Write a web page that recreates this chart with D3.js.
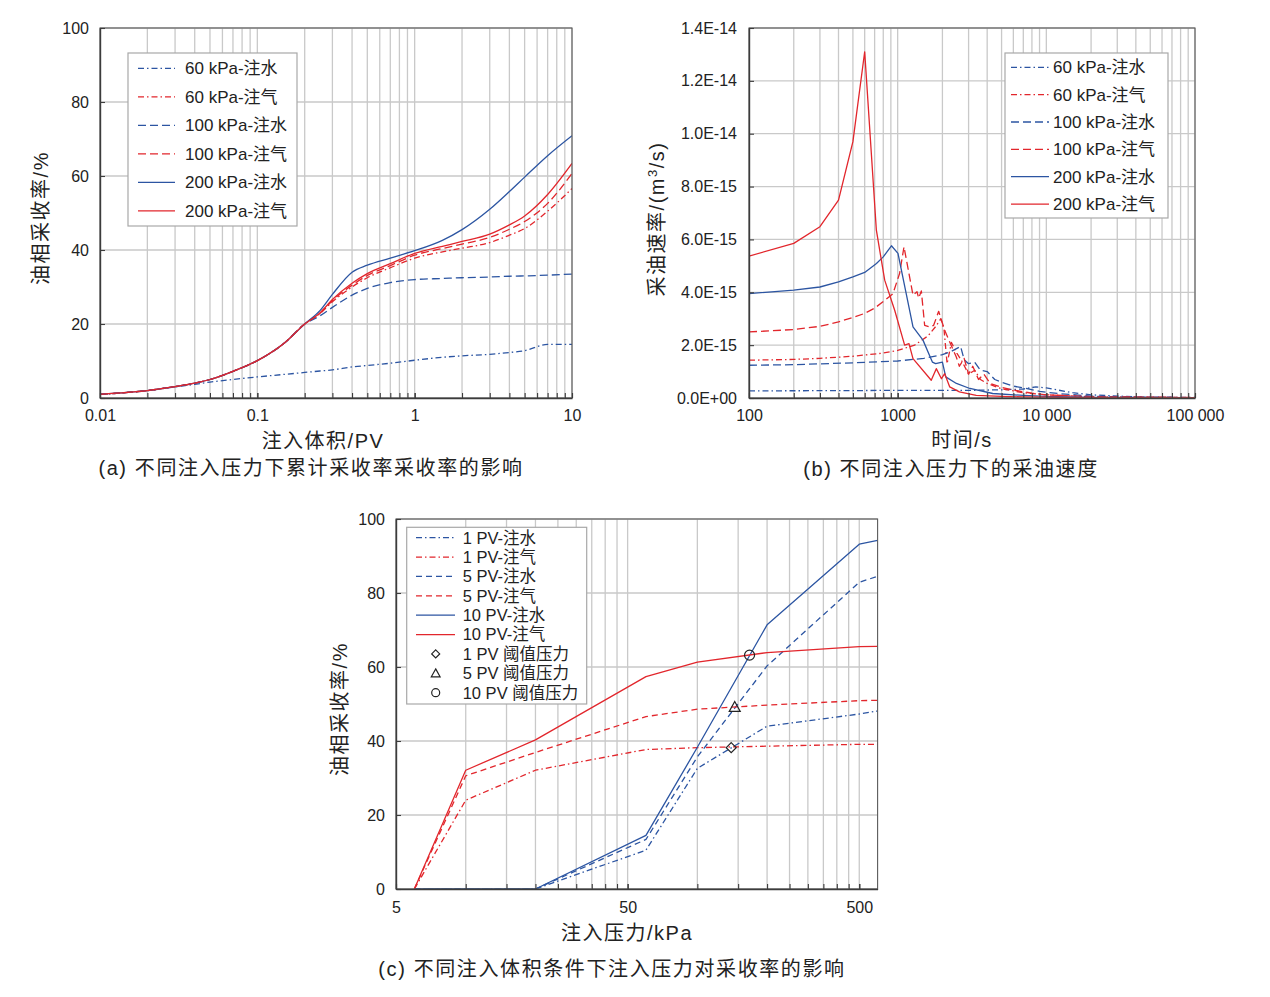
<!DOCTYPE html>
<html><head><meta charset="utf-8">
<script src="https://cdn.jsdelivr.net/npm/d3@7"></script>
<style>body{margin:0;background:#fff}</style>
</head><body><svg id="c" width="1270" height="997"></svg>
<script>
// ---------------- Panel (a): cumulative recovery vs injected PV ----------------
const pvA = [0.01,0.015,0.02,0.03,0.04,0.05,0.07,0.1,0.15,0.2,0.25,0.3,0.4,0.5,0.7,1,1.5,2,3,4,5,7,10];
const recA_60w  = [1.0,1.5,2.0,3.0,3.7,4.3,5.0,5.7,6.4,6.9,7.3,7.6,8.4,8.8,9.4,10.2,11.0,11.4,11.8,12.3,12.8,14.5,14.5];
const recA_60g  = [1.0,1.5,2.0,3.1,4.0,5.0,7.2,10.1,15.0,20.0,22.8,26.0,30.0,32.5,35.2,37.8,39.5,40.5,42.0,44.0,45.8,50.5,56.6];
const recA_100w = [1.0,1.5,2.0,3.1,4.0,5.0,7.2,10.1,15.0,20.0,22.2,24.5,27.8,29.6,31.2,32.0,32.3,32.5,32.7,32.9,33.0,33.2,33.5];
const recA_100g = [1.0,1.5,2.0,3.1,4.0,5.0,7.2,10.1,15.0,20.0,22.9,26.3,30.5,33.1,35.8,38.6,40.4,41.6,43.4,45.6,47.7,52.6,60.7];
const recA_200w = [1.0,1.5,2.0,3.1,4.0,5.0,7.2,10.1,15.0,20.0,23.6,28.0,34.0,35.9,37.8,39.8,42.6,45.5,51.0,55.8,59.7,65.5,70.9];
const recA_200g = [1.0,1.5,2.0,3.1,4.0,5.0,7.2,10.1,15.0,20.0,23.0,26.6,31.0,33.6,36.3,39.1,41.0,42.3,44.3,46.8,49.2,55.0,63.4];
const xTicksA = [0.01,0.1,1,10];
const xTickLabelsA = ["0.01","0.1","1","10"];
const yTicksA = [0,20,40,60,80,100];
const legendA = ["60 kPa-注水","60 kPa-注气","100 kPa-注水","100 kPa-注气","200 kPa-注水","200 kPa-注气"];

// ---------------- Panel (b): oil rate vs time (rate in units of 1E-15 m3/s) ----------------
const tB_60w  = [100,500,1000,2000,3000,5000,7000,8500,10000,12000,15000,20000,40000,100000];
const rB_60w  = [0.27,0.28,0.29,0.29,0.29,0.31,0.34,0.42,0.38,0.30,0.20,0.12,0.04,0.02];
const tB_60g  = [100,200,300,500,800,1000,1300,1600,1800,1950,2050,2150,2300,2500,2700,3000,3300,3600,4000,5000,7000,10000,20000,100000];
const rB_60g  = [1.43,1.46,1.50,1.58,1.70,1.80,2.00,2.35,2.70,3.00,2.60,1.30,2.10,1.70,1.40,0.90,1.05,0.70,0.55,0.35,0.20,0.12,0.05,0.01];
const tB_100w = [100,200,500,1000,1500,2000,2300,2650,2800,3000,3300,3600,4000,4500,5000,6000,7300,9000,12000,20000,40000,100000];
const rB_100w = [1.24,1.26,1.33,1.40,1.50,1.64,1.77,1.95,1.45,1.30,1.35,1.05,1.00,0.70,0.60,0.45,0.36,0.25,0.17,0.07,0.03,0.01];
const tB_100g = [100,200,300,400,500,600,700,800,930,1030,1103,1268,1349,1384,1443,1519,1641,1746,1887,2071,2480,2600,2800,3000,3200,3500,3800,4200,5000,6000,8000,10000,20000,100000];
const rB_100g = [2.50,2.59,2.71,2.88,3.05,3.20,3.40,3.65,3.95,4.71,5.72,3.89,4.02,3.78,4.05,2.75,2.69,2.75,3.28,2.56,1.55,1.20,1.50,0.90,1.20,0.70,0.90,0.55,0.40,0.30,0.18,0.12,0.05,0.02];
const tB_200w = [100,200,300,400,500,600,720,800,908,1005,1268,1480,1655,1712,1800,2000,2105,2484,3060,4360,7000,10000,20000,100000];
const rB_200w = [3.95,4.08,4.20,4.39,4.58,4.75,5.09,5.34,5.76,5.47,2.69,2.19,1.55,1.36,1.30,1.36,0.80,0.55,0.36,0.17,0.10,0.06,0.02,0.01];
const tB_200g = [100,200,300,400,500,600,719,818,955,1114,1191,1268,1682,1819,1970,2072,2240,2602,3376,5000,7000,10000,20000,100000];
const rB_200g = [5.37,5.85,6.48,7.49,9.70,13.1,6.35,4.46,3.32,2.00,2.06,1.49,0.67,1.11,0.73,0.92,0.42,0.23,0.10,0.06,0.04,0.03,0.01,0.01];
const xTicksB = [100,1000,10000,100000];
const xTickLabelsB = ["100","1000","10 000","100 000"];
const yTicksB = [0,2,4,6,8,10,12,14];
const yTickLabelsB = ["0.0E+00","2.0E-15","4.0E-15","6.0E-15","8.0E-15","1.0E-14","1.2E-14","1.4E-14"];
const legendB = ["60 kPa-注水","60 kPa-注气","100 kPa-注水","100 kPa-注气","200 kPa-注水","200 kPa-注气"];

// ---------------- Panel (c): recovery vs injection pressure ----------------
const pC = [6,10,20,60,100,200,500,600];
const recC_1w  = [0,0,0,10.5,32.6,44.0,47.3,48.1];
const recC_1g  = [0,24.0,32.1,37.7,38.2,38.6,39.1,39.1];
const recC_5w  = [0,0,0,13.4,35.7,60.3,82.9,84.5];
const recC_5g  = [0,30.6,36.9,46.6,48.6,49.7,50.9,51.0];
const recC_10w = [0,0,0,14.5,38.3,71.4,93.2,94.2];
const recC_10g = [0,32.1,40.3,57.4,61.3,63.9,65.5,65.6];
const thrP = [140,145,168];
const thrR = [38.2,49.2,63.2];
const xTicksC = [5,50,500];
const xTickLabelsC = ["5","50","500"];
const yTicksC = [0,20,40,60,80,100];
const legendC = ["1 PV-注水","1 PV-注气","5 PV-注水","5 PV-注气","10 PV-注水","10 PV-注气","1 PV 阈值压力","5 PV 阈值压力","10 PV 阈值压力"];

// ---------------- styles ----------------
const FONT = "'Liberation Sans', Arial, 'Noto Sans CJK SC', sans-serif";
const BLUE = '#2c55a2', RED = '#e2262c';
const GRID = '#c9c9c9', AXIS = '#3c3c3c', FRAME = '#5a5a5a', TXT = '#222222';
const DASHDOT = '6,3,1.5,3', DASH = '8,4', SOLID = null;

const svg = d3.select('#c').style('font-family', FONT);
svg.append('rect').attr('width',1270).attr('height',997).attr('fill','#fff');

function logGrid(lo, hi, base) {
  const out = [];
  for (let dec = base; dec <= hi * 1.0001; dec *= 10)
    for (let k = 1; k <= 9; k++) { const v = k * dec; if (v >= lo * 0.9999 && v <= hi * 1.0001) out.push(v); }
  return out;
}

function drawPanel(p) {
  const g = svg.append('g');
  const [xa, xb] = p.x.range(), [yb, ya] = p.y.range();
  g.append('g').selectAll('line').data(p.xGrid).join('line')
    .attr('x1', d => p.x(d)).attr('x2', d => p.x(d)).attr('y1', yb).attr('y2', ya)
    .attr('stroke', GRID).attr('stroke-width', 1.3);
  g.append('g').selectAll('line').data(p.yTicks).join('line')
    .attr('x1', xa).attr('x2', xb).attr('y1', d => p.y(d)).attr('y2', d => p.y(d))
    .attr('stroke', GRID).attr('stroke-width', 1.3);
  g.append('clipPath').attr('id', 'clip' + p.id).append('rect')
    .attr('x', xa).attr('y', ya - 2).attr('width', xb - xa).attr('height', yb - ya + 4);
  const sg = g.append('g').attr('clip-path', `url(#clip${p.id})`);
  p.series.forEach(s => {
    const line = d3.line().x(d => p.x(d[0])).y(d => p.y(d[1])).curve(p.curve || d3.curveLinear);
    sg.append('path').datum(d3.zip(s.x, s.y)).attr('d', line)
      .attr('fill', 'none').attr('stroke', s.color).attr('stroke-width', 1.3)
      .attr('stroke-dasharray', s.dash).attr('stroke-linejoin', 'round');
  });
  g.append('rect').attr('x', xa).attr('y', ya).attr('width', xb - xa).attr('height', yb - ya)
    .attr('fill', 'none').attr('stroke', FRAME).attr('stroke-width', 1.1);
  const minor = g.append('g').attr('transform', `translate(0,${yb})`)
    .call(d3.axisBottom(p.x).tickValues(p.xGrid).tickSize(-5).tickSizeOuter(0).tickFormat(''));
  minor.select('.domain').remove();
  minor.selectAll('line').attr('stroke', AXIS).attr('stroke-width', 1.1);
  const xg = g.append('g').attr('transform', `translate(0,${yb})`)
    .call(d3.axisBottom(p.x).tickValues(p.xTicks).tickSize(-5).tickSizeOuter(0).tickPadding(p.xPad)
      .tickFormat((d, i) => p.xLabels[i]));
  xg.select('.domain').attr('stroke', AXIS).attr('stroke-width', 1.4);
  xg.selectAll('line').attr('stroke', AXIS).attr('stroke-width', 1.1);
  xg.selectAll('text').attr('fill', TXT).style('font-size', '16px').style('font-family', FONT);
  const yg = g.append('g').attr('transform', `translate(${xa},0)`)
    .call(d3.axisLeft(p.y).tickValues(p.yTicks).tickSize(-5).tickSizeOuter(0).tickPadding(p.yPad)
      .tickFormat((d, i) => p.yLabels ? p.yLabels[i] : d));
  yg.select('.domain').attr('stroke', AXIS).attr('stroke-width', 1.4);
  yg.selectAll('line').attr('stroke', AXIS).attr('stroke-width', 1.1);
  yg.selectAll('text').attr('fill', TXT).style('font-size', '16px').style('font-family', FONT);
  g.append('text').attr('x', p.xTitle[0]).attr('y', p.xTitle[1]).attr('text-anchor', 'middle')
    .attr('fill', TXT).style('font-size', '20px').style('letter-spacing', '1.5px').text(p.xTitleText);
  const yt = g.append('text').attr('transform', `translate(${p.yTitle[0]},${p.yTitle[1]}) rotate(-90)`)
    .attr('text-anchor', 'middle').attr('fill', TXT).style('font-size', '20px').style('letter-spacing', '1.5px');
  p.yTitleText(yt);
  g.append('text').attr('x', p.caption[0]).attr('y', p.caption[1]).attr('text-anchor', 'middle')
    .attr('fill', TXT).style('font-size', '20px').style('letter-spacing', '1.6px').text(p.captionText);
  const L = p.legend;
  g.append('rect').attr('x', L.box[0]).attr('y', L.box[1]).attr('width', L.box[2]).attr('height', L.box[3])
    .attr('fill', '#fff').attr('stroke', '#a8a8a8').attr('stroke-width', 1.2);
  L.items.forEach((it, i) => {
    const cy = L.y0 + i * L.dy;
    if (it.marker) {
      drawMarker(g, it.marker, L.mx, cy, 0.8);
    } else {
      g.append('line').attr('x1', L.lx[0]).attr('x2', L.lx[1]).attr('y1', cy).attr('y2', cy)
        .attr('stroke', it.color).attr('stroke-width', 1.3).attr('stroke-dasharray', it.dash);
    }
    g.append('text').attr('x', L.tx).attr('y', cy).attr('dy', '0.36em').attr('fill', TXT)
      .style('font-size', L.fs + 'px').text(it.label);
  });
  return g;
}

function drawMarker(g, type, cx, cy, s) {
  const st = el => el.attr('fill', 'none').attr('stroke', '#222').attr('stroke-width', 1.2);
  if (type === 'diamond') {
    const r = 5 * s;
    st(g.append('path').attr('d', `M${cx},${cy - r}L${cx + r},${cy}L${cx},${cy + r}L${cx - r},${cy}Z`));
  } else if (type === 'triangle') {
    const r = 5.5 * s;
    st(g.append('path').attr('d', `M${cx},${cy - r}L${cx + r},${cy + r * 0.8}L${cx - r},${cy + r * 0.8}Z`));
  } else {
    st(g.append('circle').attr('cx', cx).attr('cy', cy).attr('r', 5 * s));
  }
}

// ---------- (a) ----------
const xA = d3.scaleLog().domain([0.01, 10]).range([100, 572]);
const yA = d3.scaleLinear().domain([0, 100]).range([398, 28]);
const styleSet = [[BLUE, DASHDOT], [RED, DASHDOT], [BLUE, DASH], [RED, DASH], [BLUE, SOLID], [RED, SOLID]];
const seriesA = [recA_60w, recA_60g, recA_100w, recA_100g, recA_200w, recA_200g]
  .map((y, i) => ({ x: pvA, y, color: styleSet[i][0], dash: styleSet[i][1] }));
drawPanel({
  id: 'a', x: xA, y: yA, xGrid: logGrid(0.01, 10, 0.01), yTicks: yTicksA,
  xTicks: xTicksA, xLabels: xTickLabelsA, xPad: 12, yPad: 11,
  curve: d3.curveMonotoneX, series: seriesA,
  xTitle: [323, 448], xTitleText: '注入体积/PV',
  yTitle: [48, 218], yTitleText: t => t.text('油相采收率/%'),
  caption: [311, 475], captionText: '(a) 不同注入压力下累计采收率采收率的影响',
  legend: { box: [128, 53, 169, 173], y0: 68.3, dy: 28.5, lx: [138, 175], tx: 185, fs: 17,
    items: legendA.map((l, i) => ({ label: l, color: styleSet[i][0], dash: styleSet[i][1] })) }
});

// ---------- (b) ----------
const xB = d3.scaleLog().domain([100, 100000]).range([749, 1195]);
const yB = d3.scaleLinear().domain([0, 14]).range([398, 28]);
const seriesB = [[tB_60w, rB_60w], [tB_60g, rB_60g], [tB_100w, rB_100w], [tB_100g, rB_100g], [tB_200w, rB_200w], [tB_200g, rB_200g]]
  .map((s, i) => ({ x: s[0], y: s[1], color: styleSet[i][0], dash: styleSet[i][1] }));
drawPanel({
  id: 'b', x: xB, y: yB, xGrid: logGrid(100, 100000, 100), yTicks: yTicksB, yLabels: yTickLabelsB,
  xTicks: xTicksB, xLabels: xTickLabelsB, xPad: 11.5, yPad: 12,
  series: seriesB,
  xTitle: [962, 447], xTitleText: '时间/s',
  yTitle: [664, 219], yTitleText: t => { t.append('tspan').text('采油速率/(m'); t.append('tspan').attr('dy', -7).style('font-size', '13px').text('3'); t.append('tspan').attr('dy', 7).text('/s)'); },
  caption: [951, 476], captionText: '(b) 不同注入压力下的采油速度',
  legend: { box: [1005, 53, 163, 165], y0: 67.3, dy: 27.35, lx: [1011, 1049], tx: 1053, fs: 17,
    items: legendB.map((l, i) => ({ label: l, color: styleSet[i][0], dash: styleSet[i][1] })) }
});

// ---------- (c) ----------
const xC = d3.scaleLog().domain([5, 600]).range([396, 877.6]);
const yC = d3.scaleLinear().domain([0, 100]).range([889, 519]);
const DASHC = '6,4';
const styleC = [[BLUE, DASHDOT], [RED, DASHDOT], [BLUE, DASHC], [RED, DASHC], [BLUE, SOLID], [RED, SOLID]];
const seriesC = [recC_1w, recC_1g, recC_5w, recC_5g, recC_10w, recC_10g]
  .map((y, i) => ({ x: pC, y, color: styleC[i][0], dash: styleC[i][1] }));
const markersC = ['diamond', 'triangle', 'circle'];
const gC = drawPanel({
  id: 'c', x: xC, y: yC, xGrid: logGrid(5, 600, 5), yTicks: yTicksC,
  xTicks: xTicksC, xLabels: xTickLabelsC, xPad: 12.5, yPad: 11,
  series: seriesC,
  xTitle: [627, 940], xTitleText: '注入压力/kPa',
  yTitle: [347, 709], yTitleText: t => t.text('油相采收率/%'),
  caption: [612, 976], captionText: '(c) 不同注入体积条件下注入压力对采收率的影响',
  legend: { box: [406.7, 527.3, 180, 176.7], y0: 537.7, dy: 19.37, lx: [416, 455], tx: 462.7, fs: 16.5, mx: 435.7,
    items: legendC.map((l, i) => i < 6 ? ({ label: l, color: styleC[i][0], dash: styleC[i][1] }) : ({ label: l, marker: markersC[i - 6] })) }
});
thrP.forEach((p, i) => drawMarker(gC, markersC[i], xC(p), yC(thrR[i]), 1));
</script></body></html>
